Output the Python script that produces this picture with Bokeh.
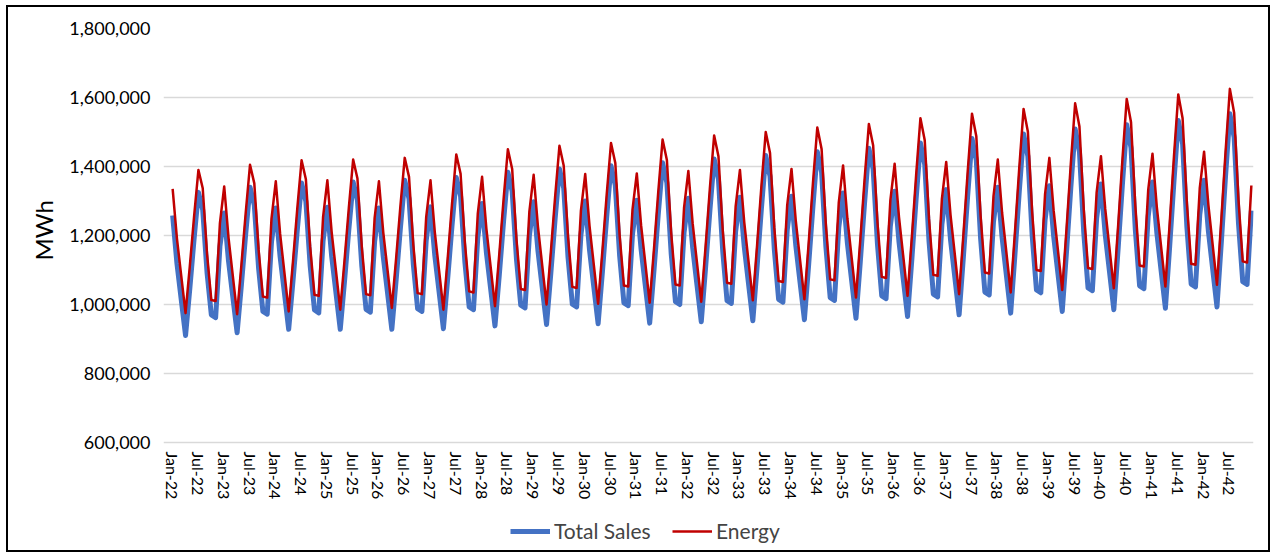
from bokeh.plotting import figure
from bokeh.models import (Range1d, FixedTicker, NumeralTickFormatter, Legend, LegendItem,
                          ColumnDataSource, Title)
from bokeh.embed import file_html
from bokeh.resources import INLINE

# Monthly values, Jan-22 .. Dec-42 (one row per year, MWh)
total_sales = [
    1258000, 1119000, 1014000, 910000, 1047000, 1192000, 1325000, 1274000, 1093000, 970000, 962000, 1168000,
    1265000, 1126000, 1022000, 918000, 1057000, 1205000, 1340000, 1288000, 1105000, 980000, 972000, 1181000,
    1280000, 1139000, 1034000, 928000, 1068000, 1216000, 1352000, 1299000, 1112000, 984000, 976000, 1184000,
    1282000, 1140000, 1034000, 928000, 1069000, 1218000, 1355000, 1302000, 1114000, 986000, 978000, 1183000,
    1280000, 1139000, 1034000, 928000, 1071000, 1222000, 1360000, 1307000, 1117000, 988000, 980000, 1186000,
    1283000, 1142000, 1036000, 930000, 1075000, 1228000, 1368000, 1314000, 1123000, 993000, 985000, 1194000,
    1293000, 1151000, 1045000, 938000, 1085000, 1241000, 1383000, 1328000, 1132000, 998000, 990000, 1199000,
    1298000, 1156000, 1049000, 942000, 1091000, 1249000, 1393000, 1337000, 1137000, 1001000, 993000, 1202000,
    1300000, 1158000, 1051000, 944000, 1095000, 1255000, 1402000, 1345000, 1143000, 1005000, 997000, 1204000,
    1302000, 1160000, 1053000, 946000, 1099000, 1262000, 1411000, 1353000, 1148000, 1008000, 1000000, 1209000,
    1308000, 1165000, 1057000, 950000, 1106000, 1271000, 1422000, 1363000, 1154000, 1011000, 1003000, 1212000,
    1311000, 1168000, 1060000, 953000, 1111000, 1279000, 1432000, 1372000, 1160000, 1015000, 1007000, 1216000,
    1314000, 1171000, 1063000, 956000, 1117000, 1287000, 1443000, 1383000, 1168000, 1020000, 1012000, 1223000,
    1323000, 1178000, 1069000, 960000, 1123000, 1295000, 1453000, 1392000, 1175000, 1025000, 1017000, 1228000,
    1328000, 1183000, 1074000, 965000, 1131000, 1307000, 1468000, 1406000, 1183000, 1030000, 1022000, 1233000,
    1333000, 1188000, 1079000, 970000, 1139000, 1317000, 1481000, 1418000, 1192000, 1036000, 1028000, 1240000,
    1340000, 1194000, 1085000, 975000, 1146000, 1328000, 1494000, 1430000, 1200000, 1042000, 1034000, 1245000,
    1344000, 1198000, 1089000, 980000, 1155000, 1340000, 1509000, 1443000, 1209000, 1048000, 1040000, 1250000,
    1349000, 1203000, 1094000, 985000, 1162000, 1349000, 1521000, 1454000, 1217000, 1054000, 1046000, 1256000,
    1355000, 1209000, 1099000, 989000, 1169000, 1359000, 1533000, 1466000, 1225000, 1059000, 1051000, 1261000,
    1360000, 1213000, 1103000, 993000, 1178000, 1374000, 1553000, 1484000, 1237000, 1066000, 1058000, 1272000,
]

energy = [
    1335000, 1191000, 1083000, 975000, 1112000, 1257000, 1390000, 1337000, 1147000, 1013000, 1010000, 1236000,
    1342000, 1194000, 1083000, 972000, 1115000, 1266000, 1405000, 1351000, 1159000, 1023000, 1020000, 1249000,
    1357000, 1206000, 1093000, 980000, 1125000, 1278000, 1418000, 1363000, 1167000, 1028000, 1025000, 1253000,
    1360000, 1210000, 1098000, 985000, 1129000, 1281000, 1420000, 1365000, 1169000, 1030000, 1027000, 1251000,
    1357000, 1210000, 1100000, 990000, 1134000, 1286000, 1425000, 1370000, 1173000, 1033000, 1030000, 1254000,
    1360000, 1210000, 1098000, 985000, 1134000, 1291000, 1435000, 1379000, 1179000, 1038000, 1035000, 1263000,
    1370000, 1220000, 1108000, 995000, 1145000, 1304000, 1450000, 1393000, 1189000, 1045000, 1042000, 1269000,
    1376000, 1226000, 1113000, 1000000, 1152000, 1313000, 1460000, 1402000, 1197000, 1051000, 1048000, 1272000,
    1378000, 1228000, 1115000, 1002000, 1156000, 1319000, 1468000, 1410000, 1202000, 1055000, 1052000, 1275000,
    1380000, 1230000, 1118000, 1005000, 1161000, 1327000, 1478000, 1419000, 1208000, 1058000, 1055000, 1281000,
    1387000, 1235000, 1122000, 1008000, 1167000, 1336000, 1490000, 1430000, 1215000, 1063000, 1060000, 1284000,
    1390000, 1239000, 1125000, 1012000, 1173000, 1344000, 1500000, 1439000, 1222000, 1068000, 1065000, 1288000,
    1393000, 1242000, 1128000, 1015000, 1179000, 1354000, 1513000, 1451000, 1230000, 1073000, 1070000, 1296000,
    1403000, 1250000, 1135000, 1020000, 1186000, 1362000, 1523000, 1461000, 1238000, 1080000, 1077000, 1302000,
    1408000, 1255000, 1140000, 1025000, 1195000, 1375000, 1540000, 1476000, 1248000, 1086000, 1083000, 1307000,
    1413000, 1260000, 1145000, 1030000, 1203000, 1386000, 1553000, 1488000, 1257000, 1093000, 1090000, 1314000,
    1420000, 1266000, 1151000, 1035000, 1211000, 1397000, 1567000, 1501000, 1267000, 1100000, 1097000, 1320000,
    1425000, 1272000, 1157000, 1042000, 1221000, 1410000, 1583000, 1516000, 1276000, 1106000, 1103000, 1325000,
    1430000, 1277000, 1162000, 1047000, 1228000, 1420000, 1596000, 1528000, 1286000, 1113000, 1110000, 1332000,
    1437000, 1283000, 1168000, 1052000, 1236000, 1431000, 1609000, 1540000, 1294000, 1118000, 1115000, 1338000,
    1443000, 1289000, 1173000, 1057000, 1244000, 1443000, 1625000, 1555000, 1304000, 1125000, 1122000, 1345000,
]

x_labels = [
    "Jan-22", "Jul-22", "Jan-23", "Jul-23", "Jan-24", "Jul-24", "Jan-25", "Jul-25",
    "Jan-26", "Jul-26", "Jan-27", "Jul-27", "Jan-28", "Jul-28", "Jan-29", "Jul-29",
    "Jan-30", "Jul-30", "Jan-31", "Jul-31", "Jan-32", "Jul-32", "Jan-33", "Jul-33",
    "Jan-34", "Jul-34", "Jan-35", "Jul-35", "Jan-36", "Jul-36", "Jan-37", "Jul-37",
    "Jan-38", "Jul-38", "Jan-39", "Jul-39", "Jan-40", "Jul-40", "Jan-41", "Jul-41",
    "Jan-42", "Jul-42",
]
label_step = 6
y_ticks = [600000, 800000, 1000000, 1200000, 1400000, 1600000, 1800000]

months = list(range(len(energy)))
src = ColumnDataSource(dict(m=months, sales=total_sales, energy=energy))

FONT = "Lato"

# layout geometry (pixels): value band 414 px tall with 110 px kept below it
# inside the frame (category labels + legend); 1083 px for the 252 months plus
# 7 px of room at the left so the first category label is not cut
BAND_PX = 414
BELOW_PX = 110
CAT_PX = 1083
LEFT_PAD_PX = 7
n = len(energy)
y_min = y_ticks[0] - BELOW_PX * (y_ticks[-1] - y_ticks[0]) / BAND_PX
x_min = -0.5 - LEFT_PAD_PX * n / CAT_PX

p = figure(width=1264, height=547, output_backend="svg", toolbar_location=None,
           x_range=Range1d(x_min, n - 0.5),
           y_range=Range1d(y_min, y_ticks[-1]))
p.styles = {"border": "2px solid black", "position": "relative", "left": "6px", "top": "5px"}
p.min_border_left = 155
p.min_border_right = 19
p.min_border_top = 21
p.min_border_bottom = 2
p.outline_line_color = None
p.background_fill_color = "white"
p.border_fill_color = "white"

r_sales = p.line("m", "sales", source=src, line_color="#4472C4", line_width=5, line_join="round")
r_energy = p.line("m", "energy", source=src, line_color="#C00000", line_width=2.5, line_join="round")

tick_pos = [i * label_step for i in range(len(x_labels))]
p.xaxis.fixed_location = y_ticks[0]
p.xaxis.ticker = FixedTicker(ticks=tick_pos)
p.xaxis.major_label_overrides = {t: lab for t, lab in zip(tick_pos, x_labels)}
p.xaxis.major_label_orientation = "vertical"
p.xaxis.major_label_text_font = FONT
p.xaxis.major_label_text_font_size = "16px"
p.xaxis.major_label_text_color = "#000000"
p.xaxis.major_label_standoff = 9
p.xaxis.axis_line_color = None
p.xaxis.major_tick_line_color = None
p.xaxis.major_tick_out = 0
p.xaxis.major_tick_in = 0
p.xaxis.minor_tick_line_color = None

p.yaxis.ticker = FixedTicker(ticks=y_ticks)
p.yaxis.formatter = NumeralTickFormatter(format="0,0")
p.yaxis.major_label_text_font = FONT
p.yaxis.major_label_text_font_size = "18px"
p.yaxis.major_label_text_color = "#000000"
p.yaxis.major_label_standoff = 13
p.yaxis.major_tick_out = 0
p.yaxis.major_tick_in = 0
p.yaxis.axis_line_color = None
p.yaxis.major_tick_line_color = None
p.yaxis.minor_tick_line_color = None

p.add_layout(Title(text="MWh", align="left", offset=292, text_font=FONT,
                   text_font_size="24px", text_font_style="normal",
                   text_color="#000000", standoff=18), "left")

p.xgrid.grid_line_color = None
p.ygrid.grid_line_color = "#d9d9d9"
p.ygrid.grid_line_width = 1.5

legend = Legend(items=[LegendItem(label="Total Sales", renderers=[r_sales]),
                       LegendItem(label="Energy", renderers=[r_energy])],
                orientation="horizontal", location=(347, 9),
                label_text_font=FONT, label_text_font_size="21px",
                glyph_width=40, glyph_height=20, label_width=97, spacing=21,
                padding=0, margin=0,
                label_standoff=4, border_line_color=None, background_fill_alpha=0)
p.add_layout(legend, "center")

open("out.html", "w").write(file_html(p, INLINE))
